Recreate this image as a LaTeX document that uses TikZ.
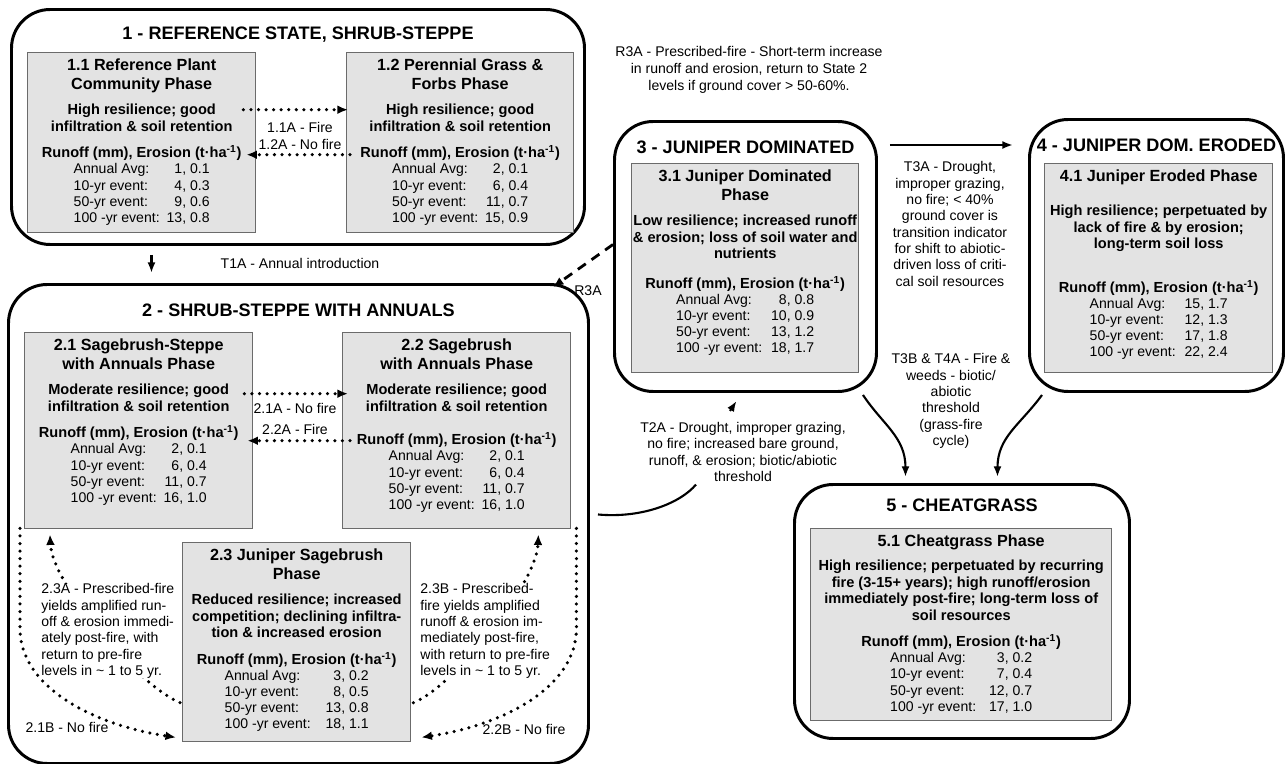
\documentclass[tikz,border=0pt]{standalone}
\usepackage{fontspec}
\setmainfont{Liberation Sans}
\usetikzlibrary{arrows.meta,calc,positioning}

\definecolor{boxgray}{gray}{0.89}
\definecolor{boxedge}{gray}{0.42}
\newlength\px
\setlength\px{0.02cm}

% text blocks inside the phase boxes
\newcommand\ptitle[1]{{\fontsize{9.2}{10.8}\selectfont\bfseries #1\par}}
\newcommand\pbody[1]{{\fontsize{8.3}{9.35}\selectfont\bfseries #1\par}}
\newcommand\runoff{{\fontsize{8.3}{9.35}\selectfont\bfseries Runoff (mm), Erosion (t·ha\textsuperscript{-1})\par}}
\newcommand\rows[5][7]{{\fontsize{8}{9.2}\selectfont
  \begin{tabular}[t]{@{}l@{\hspace{#1\px}}r@{}}
    Annual Avg: & #2\\ 10-yr event: & #3\\ 50-yr event: & #4\\ 100 -yr event: & #5
  \end{tabular}\par}}
\newcommand\phbox[3]{\makebox[#1\px]{\parbox[t][#2\px][t]{\dimexpr#1\px+60\px\relax}{\centering\vspace*{6\px}#3}}}

\begin{document}
\begin{tikzpicture}[x=0.02cm, y=-0.02cm]
    \tikzset{
        state/.style={draw, line width=1.7pt, rounded corners=22pt, anchor=north west, inner sep=0pt},
        phase/.style={draw=boxedge, line width=0.8pt, fill=boxgray, anchor=north west, inner sep=0pt},
        stitle/.style={font=\fontsize{10.3}{12}\selectfont\bfseries, inner sep=0pt, text height=7.4pt, text depth=0pt},
        tlab/.style={font=\fontsize{8}{9.3}\selectfont, align=center, inner sep=0pt},
        dotarrow/.style={line width=2pt, dash pattern=on 0pt off 4.3pt, line cap=round, -{Latex[length=6pt,width=5pt]}},
        dasharrow/.style={line width=1.6pt, dash pattern=on 5.5pt off 4pt, -{Latex[length=6pt,width=5pt]}},
        solidarrow/.style={line width=1.2pt, -{Latex[length=6pt,width=4.5pt]}},
        conn/.style={line width=1.2pt}}
    \useasboundingbox (0,0) rectangle (1286,764);

    % states
    \node[state, minimum width=573\px, minimum height=235\px] (s1) at (10,8) {};
    \node[state, minimum width=580\px, minimum height=479\px] (s2) at (7,283) {};
    \node[state, minimum width=262\px, minimum height=270\px] (s3) at (613,120) {};
    \node[state, minimum width=254\px, minimum height=272\px] (s4) at (1028,118) {};
    \node[state, minimum width=335\px, minimum height=254\px] (s5) at (793,483) {};
    \node[stitle, below=18.5\px of s1.north] (t1) {1 - REFERENCE STATE, SHRUB-STEPPE};
    \node[stitle, below=20.5\px of s2.north] (t2) {2 - SHRUB-STEPPE WITH ANNUALS};
    \node[stitle, below=20.5\px of s3.north] (t3) {3 - JUNIPER DOMINATED};
    \node[stitle, below=20.5\px of s4.north] (t4) {4 - JUNIPER DOM. ERODED};
    \node[stitle, below=15.5\px of s5.north] (t5) {5 - CHEATGRASS};

    % phases
    \node[phase] (p11) at (27,52) {\phbox{228}{180}{%
        \ptitle{1.1 Reference Plant\\Community Phase}\vspace{9\px}
        \pbody{High resilience; good\\infiltration \& soil retention}\vspace{10\px}
        \runoff\rows{1, 0.1}{4, 0.3}{9, 0.6}{13, 0.8}}};
    \node[phase] (p12) at (346,52) {\phbox{227}{180}{%
        \ptitle{1.2 Perennial Grass \&\\Forbs Phase}\vspace{9\px}
        \pbody{High resilience; good\\infiltration \& soil retention}\vspace{10\px}
        \runoff\rows{2, 0.1}{6, 0.4}{11, 0.7}{15, 0.9}}};
    \node[phase] (p21) at (24,332) {\phbox{228}{196}{%
        \ptitle{2.1 Sagebrush-Steppe\\with Annuals Phase}\vspace{9\px}
        \pbody{Moderate resilience; good\\infiltration \& soil retention}\vspace{10\px}
        \runoff\rows{2, 0.1}{6, 0.4}{11, 0.7}{16, 1.0}}};
    \node[phase] (p22) at (342,332) {\phbox{228}{196}{%
        \ptitle{2.2 Sagebrush\\with Annuals Phase}\vspace{9\px}
        \pbody{Moderate resilience; good\\infiltration \& soil retention}\vspace{17\px}
        \runoff\rows{2, 0.1}{6, 0.4}{11, 0.7}{16, 1.0}}};
    \node[phase] (p23) at (182,542) {\phbox{228}{199}{%
        \ptitle{2.3 Juniper Sagebrush\\Phase}\vspace{9\px}
        \pbody{Reduced resilience; increased\\competition; declining infiltra-\\tion \& increased erosion}\vspace{10\px}
        \runoff\rows[15]{3, 0.2}{8, 0.5}{13, 0.8}{18, 1.1}}};
    \node[phase] (p31) at (631,163) {\phbox{227}{209}{%
        \ptitle{3.1 Juniper Dominated\\Phase}\vspace{9\px}
        \pbody{Low resilience; increased runoff\\\& erosion; loss of soil water and\\nutrients}\vspace{13\px}
        \runoff\rows[9]{8, 0.8}{10, 0.9}{13, 1.2}{18, 1.7}}};
    \node[phase] (p41) at (1044,163) {\phbox{228}{209}{%
        \ptitle{4.1 Juniper Eroded Phase}\vspace{18\px}
        \pbody{High resilience; perpetuated by\\lack of fire \& by erosion;\\long-term soil loss}\vspace{27\px}
        \runoff\rows[9]{15, 1.7}{12, 1.3}{17, 1.8}{22, 2.4}}};
    \node[phase] (p51) at (810,528) {\phbox{301}{192}{%
        \ptitle{5.1 Cheatgrass Phase}\vspace{8\px}
        \pbody{High resilience; perpetuated by recurring\\fire (3-15+ years); high runoff/erosion\\immediately post-fire; long-term loss of\\soil resources}\vspace{10\px}
        \runoff\rows[13]{3, 0.2}{7, 0.4}{12, 0.7}{17, 1.0}}};

    % 2.3 back to 2.1 / 2.2 (partly hidden by the labels)
    \draw[dotarrow] ($(p23.west)+(-2,60.5)$) .. controls +(-40,-16) and +(2,50) .. ($(p21.south west)+(26,5)$);
    \draw[dotarrow] ($(p23.east)+(2,60.5)$) .. controls +(40,-16) and +(-2,50) .. ($(p22.south east)+(-33,5)$);

    % labels
    \node[tlab] (l1a) at (300,136) {1.1A - Fire\\[1.6\px]1.2A - No fire};
    \node[tlab] (t1a) at (300,263) {T1A - Annual introduction};
    \node[tlab] (l2a) at (295,419) {2.1A - No fire\\[5.6\px]2.2A - Fire};
    \node[tlab, font=\fontsize{8}{9.65}\selectfont] (r3a) at (749,70) {R3A - Prescribed-fire - Short-term increase\\in runoff and erosion, return to State 2\\levels if ground cover > 50-60\%.};
    \node[tlab] (r3alab) at (588,291) {R3A};
    \node[tlab] (t2a) at (743,452) {T2A - Drought, improper grazing,\\no fire; increased bare ground,\\runoff, \& erosion; biotic/abiotic\\threshold};
    \node[tlab] (t3a) at (950,224) {T3A - Drought,\\improper grazing,\\no fire; < 40\%\\ground cover is\\transition indicator\\for shift to abiotic-\\driven loss of criti-\\cal soil resources};
    \node[tlab] (t3b) at (951,401) {T3B \& T4A - Fire \&\\weeds - biotic/\\abiotic\\threshold\\(grass-fire\\cycle)};
    \node[tlab, align=left, anchor=west, fill=white] (l23a) at (41,631) {2.3A - Prescribed-fire\\yields amplified run-\\off \& erosion immedi-\\ately post-fire, with\\return to pre-fire\\levels in \textasciitilde\ 1 to 5 yr.};
    \node[tlab, align=left, anchor=west, fill=white] (l23b) at (420,631) {2.3B - Prescribed-\\fire yields amplified\\runoff \& erosion im-\\mediately post-fire,\\with return to pre-fire\\levels in \textasciitilde\ 1 to 5 yr.};
    \node[tlab] (l21b) at (67,727) {2.1B - No fire};
    \node[tlab] (l22b) at (524,729) {2.2B - No fire};

    % phase transitions
    \draw[dotarrow] ($(p11.east)+(-13,-33)$) -- ($(p12.west)+(2,-33)$);
    \draw[dotarrow] ($(p12.west)+(4,12)$) -- ($(p11.east)+(-10,12)$);
    \draw[dotarrow] ($(p21.east)+(-9,-37)$) -- ($(p22.west)+(6,-37)$);
    \draw[dotarrow] ($(p22.west)+(8,10)$) -- ($(p21.east)+(-6,10)$);
    \draw[dotarrow] ($(p21.south west)+(-4,-1)$) -- ++(0,100) .. controls +(0,60) and +(-80,-12) .. ($(p23.south west)+(-6,-5)$);
    \draw[dotarrow] ($(p22.south east)+(5,-1)$) -- ++(0,100) .. controls +(0,60) and +(80,-12) .. ($(p23.south east)+(10,-5)$);

    % state transitions
    \draw[solidarrow] ($(s1.south)+(-146.5,9)$) -- ($(s2.north)+(-147,-10)$);
    \draw[dasharrow] ($(s3.west)+(0,-12)$) -- ($(s2.north east)+(-37,4)$);
    \draw[conn] ($(s2.east)+(8,-9.5)$) .. controls +(45,4) and +(-15,18) .. ($(t2a.south)+(-47,2.5)$);
    \draw[solidarrow] ($(t2a.north)+(-13,-11)$) -- ($(s3.south)+(-9,8)$);
    \draw[solidarrow] ($(s3.north east)+(12,25)$) -- ($(s4.north west)+(-15,27)$);
    \draw[solidarrow] ($(s3.south east)+(-15,2)$) .. controls +(20,30) and +(0,-40) .. ($(s5.north)+(-56.5,-6)$);
    \draw[solidarrow] ($(s4.south west)+(14,2)$) .. controls +(-22,30) and +(0,-40) .. ($(s5.north)+(35.5,-6)$);
\end{tikzpicture}
\end{document}
